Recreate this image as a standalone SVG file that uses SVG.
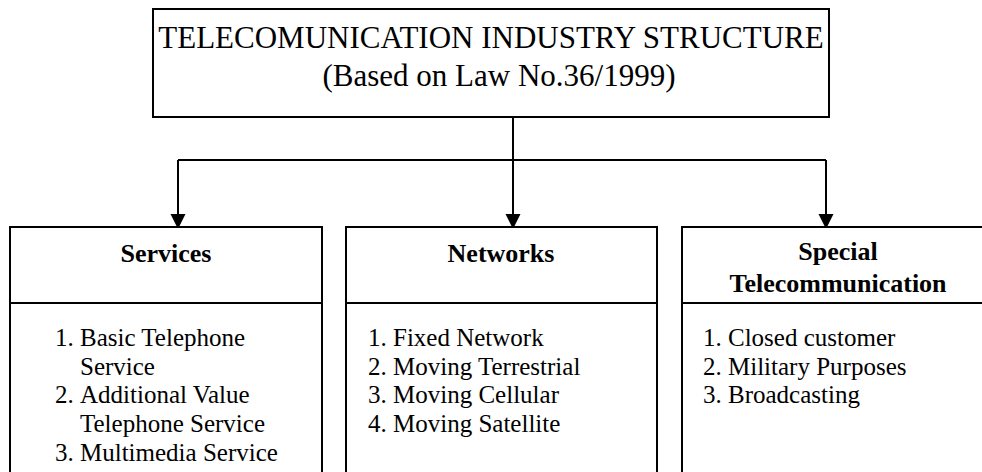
<svg xmlns="http://www.w3.org/2000/svg" width="982" height="472" viewBox="0 0 982 472">
<defs>
<style>
.box{fill:#fff;stroke:#000;stroke-width:2}
.ln{stroke:#000;stroke-width:2;fill:none}
.t{font-family:"Liberation Serif","Times New Roman",serif;fill:#000}
.title{font-size:31px}
.hd{font-size:26px;font-weight:bold}
.it{font-size:25px}
</style>
</defs>
<rect width="982" height="472" fill="#fff"/>
<g id="connectors">
<path class="ln" d="M513,117 V214"/>
<path class="ln" d="M178,160 H826"/>
<path class="ln" d="M178,160 V214"/>
<path class="ln" d="M826,160 V214"/>
<path d="M170.5,214 L185.5,214 L178,229 Z"/>
<path d="M505.5,214 L520.5,214 L513,229 Z"/>
<path d="M818.5,214 L833.5,214 L826,229 Z"/>
</g>
<g id="top">
<rect class="box" x="153" y="9" width="676" height="108"/>
<text class="t title" x="491" y="48" text-anchor="middle">TELECOMUNICATION INDUSTRY STRUCTURE</text>
<text class="t title" x="499" y="86" text-anchor="middle">(Based on Law No.36/1999)</text>
</g>
<g id="services">
<rect class="box" x="10" y="227" width="312" height="260"/>
<line class="ln" x1="10" y1="303" x2="322" y2="303"/>
<text class="t hd" x="166" y="262" text-anchor="middle">Services</text>
<text class="t it" y="346"><tspan x="55">1.</tspan><tspan x="80">Basic Telephone</tspan></text>
<text class="t it" x="80" y="375">Service</text>
<text class="t it" y="403"><tspan x="55">2.</tspan><tspan x="80">Additional Value</tspan></text>
<text class="t it" x="80" y="432">Telephone Service</text>
<text class="t it" y="461"><tspan x="55">3.</tspan><tspan x="80">Multimedia Service</tspan></text>
</g>
<g id="networks">
<rect class="box" x="346" y="227" width="311" height="260"/>
<line class="ln" x1="346" y1="303" x2="657" y2="303"/>
<text class="t hd" x="501" y="262" text-anchor="middle">Networks</text>
<text class="t it" y="346"><tspan x="368">1.</tspan><tspan x="393">Fixed Network</tspan></text>
<text class="t it" y="375"><tspan x="368">2.</tspan><tspan x="393">Moving Terrestrial</tspan></text>
<text class="t it" y="403"><tspan x="368">3.</tspan><tspan x="393">Moving Cellular</tspan></text>
<text class="t it" y="432"><tspan x="368">4.</tspan><tspan x="393">Moving Satellite</tspan></text>
</g>
<g id="special">
<rect class="box" x="682" y="227" width="312" height="260"/>
<line class="ln" x1="682" y1="303" x2="994" y2="303"/>
<text class="t hd" x="838" y="260" text-anchor="middle">Special</text>
<text class="t hd" x="838" y="292" text-anchor="middle">Telecommunication</text>
<text class="t it" y="346"><tspan x="703">1.</tspan><tspan x="728">Closed customer</tspan></text>
<text class="t it" y="375"><tspan x="703">2.</tspan><tspan x="728">Military Purposes</tspan></text>
<text class="t it" y="403"><tspan x="703">3.</tspan><tspan x="728">Broadcasting</tspan></text>
</g>
</svg>
